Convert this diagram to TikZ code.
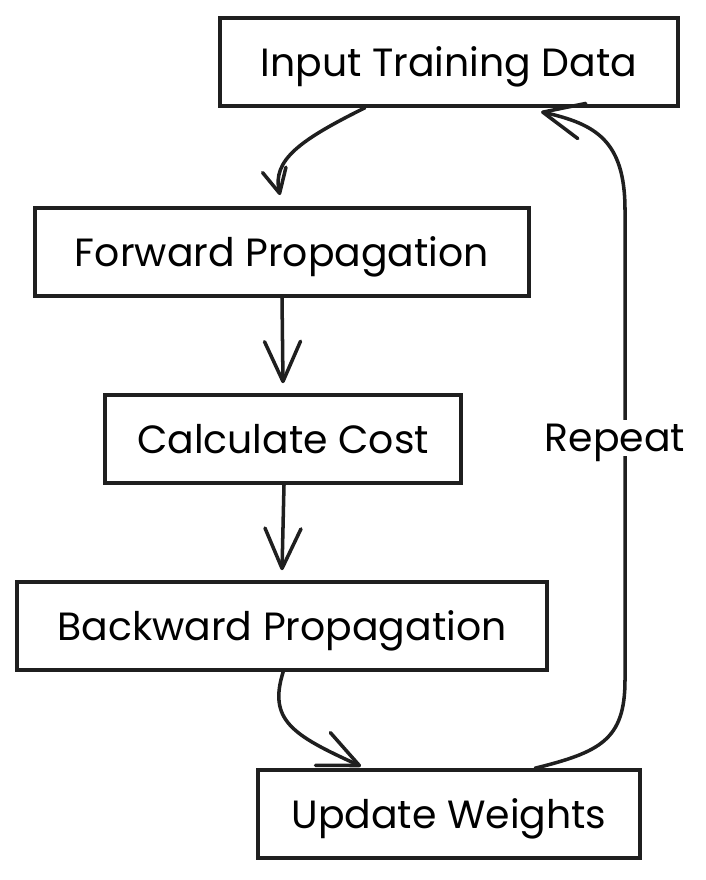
\documentclass[tikz,border=0pt]{standalone}
\usepackage{fontspec}
\setmainfont{Poppins}
\usetikzlibrary{arrows.meta}

\tikzset{
  stepbox/.style={draw=black!88, line width=2.5pt, inner sep=0pt, text depth=0pt,
    minimum height=2.2cm, font=\fontsize{28}{32}\selectfont},
  flow/.style={draw=black!88, line width=2.5pt, line cap=round,
    -{Straight Barb[length=1cm,width=0.9cm,line width=2.5pt,round]}},
}

\begin{document}
\begin{tikzpicture}[x=0.025cm,y=-0.025cm]
        \useasboundingbox (0,0) rectangle (705,880);

        % Steps
        \node[stepbox, minimum width=11.45cm] (inp) at (449,62) {Input Training Data};
        \node[stepbox, minimum width=12.35cm] (fwd) at (282,252) {Forward Propagation};
        \node[stepbox, minimum width=8.9cm] (cost) at (283,439) {Calculate Cost};
        \node[stepbox, minimum width=13.25cm] (bwd) at (282,626) {Backward Propagation};
        \node[stepbox, minimum width=9.55cm] (upd) at (449,814) {Update Weights};

        % Forward pass
        \draw[flow, -{Straight Barb[length=0.6cm,width=0.6cm,line width=2.5pt,round]}]
          ([xshift=-2.1cm]inp.south) .. controls (300,140) and (272,160) .. ([xshift=-0.05cm,yshift=0.28cm]fwd.north);
        \draw[flow] (fwd.south) -- ([yshift=0.25cm]cost.north);
        \draw[flow] ([xshift=0.025cm]cost.south) -- ([yshift=0.25cm]bwd.north);

        % Backward pass
        \draw[flow] ([xshift=0.03cm]bwd.south) .. controls (268,720) and (292,735) .. ([xshift=-2.2cm,yshift=0.05cm]upd.north);

        % Loop back
        \draw[flow] ([xshift=2.15cm]upd.north) .. controls (600,752) and (625,740) .. (625,680)
          -- (625,210) .. controls (625,140) and (595,124) .. ([xshift=2.3cm,yshift=-0.1cm]inp.south);
        \node[fill=white, inner sep=3pt, text depth=0pt, font=\fontsize{28}{32}\selectfont] (rep) at (615,438) {Repeat};
      \end{tikzpicture}
\end{document}
